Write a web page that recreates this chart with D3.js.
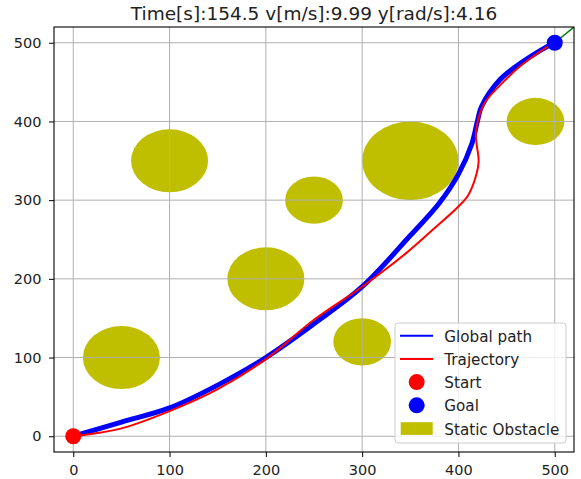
<!DOCTYPE html>
<html>
<head>
<meta charset="utf-8">
<script src="https://cdn.jsdelivr.net/npm/d3@7"></script>
<style>
  body { margin: 0; background: #fff; }
  svg { font-family: "DejaVu Sans", sans-serif; }
</style>
</head>
<body>
<div id="chart"></div>
<script>
// chart data
const titleText = "Time[s]:154.5 v[m/s]:9.99 y[rad/s]:4.16";
const tickValues = [0, 100, 200, 300, 400, 500];

const obsX = [50, 100, 200, 250, 300, 350, 480];
const obsY = [100, 350, 200, 300, 120, 350, 400];
const obsR = [40, 40, 40, 30, 30, 50, 30];

const globalX = [0, 50, 100, 150, 200, 250, 300, 350, 380, 400, 414, 420, 424, 443, 467, 492, 500];
const globalY = [0, 18, 36, 65, 100, 143, 190, 255, 296, 333, 372, 402, 419, 453, 476, 495, 500];

const trajX = [0, 25, 50, 100, 150, 200, 250, 300, 346, 373, 400, 410, 418, 421, 419, 418, 421, 428, 440, 464, 490, 498];
const trajY = [0, 4, 10, 32, 60, 98, 148, 190, 233, 262, 292, 306, 330, 350, 370, 385, 405, 425, 442, 470, 493, 499];

const goalLineX = [500, 540];
const goalLineY = [500, 540];

const start = [0, 0];
const goal = [500, 500];

const legendLabels = ["Global path", "Trajectory", "Start", "Goal", "Static Obstacle"];

const width = 581, height = 479;
const margin = {top: 27, right: 7, bottom: 27, left: 54};

const svg = d3.select("#chart").append("svg")
  .attr("width", width)
  .attr("height", height);

const x = d3.scaleLinear().domain([-20, 520]).range([margin.left, width - margin.right]);
const y = d3.scaleLinear().domain([-20, 520]).range([height - margin.bottom, margin.top]);

svg.append("defs").append("clipPath").attr("id", "clip")
  .append("rect")
  .attr("x", x(-20)).attr("y", y(520))
  .attr("width", x(520) - x(-20)).attr("height", y(-20) - y(520));

const plot = svg.append("g").attr("clip-path", "url(#clip)");

// obstacles
plot.selectAll("ellipse.obs")
  .data(obsX.map((d, i) => ({cx: d, cy: obsY[i], r: obsR[i]})))
  .enter().append("ellipse")
  .attr("class", "obs")
  .attr("cx", d => x(d.cx))
  .attr("cy", d => y(d.cy))
  .attr("rx", d => x(d.r) - x(0))
  .attr("ry", d => y(0) - y(d.r))
  .attr("fill", "#bfbf00");

// grid
plot.selectAll("line.gx").data(tickValues).enter().append("line")
  .attr("x1", d => x(d)).attr("x2", d => x(d))
  .attr("y1", y(-20)).attr("y2", y(520))
  .attr("stroke", "#b0b0b0").attr("stroke-width", 1);
plot.selectAll("line.gy").data(tickValues).enter().append("line")
  .attr("y1", d => y(d)).attr("y2", d => y(d))
  .attr("x1", x(-20)).attr("x2", x(520))
  .attr("stroke", "#b0b0b0").attr("stroke-width", 1);

const line = d3.line()
  .x(d => x(d[0]))
  .y(d => y(d[1]))
  .curve(d3.curveCatmullRom.alpha(0.5));

plot.append("path")
  .datum(goalLineX.map((d, i) => [d, goalLineY[i]]))
  .attr("d", d3.line().x(d => x(d[0])).y(d => y(d[1])))
  .attr("fill", "none").attr("stroke", "green").attr("stroke-width", 1.5);

plot.append("path")
  .datum(globalX.map((d, i) => [d, globalY[i]]))
  .attr("d", line)
  .attr("fill", "none").attr("stroke", "blue").attr("stroke-width", 5);

plot.append("path")
  .datum(trajX.map((d, i) => [d, trajY[i]]))
  .attr("d", line)
  .attr("fill", "none").attr("stroke", "red").attr("stroke-width", 2);

plot.append("circle")
  .attr("cx", x(start[0])).attr("cy", y(start[1])).attr("r", 8).attr("fill", "red");
plot.append("circle")
  .attr("cx", x(goal[0])).attr("cy", y(goal[1])).attr("r", 8).attr("fill", "blue");

// axes
const xAxis = svg.append("g")
  .attr("transform", `translate(0,${y(-20)})`)
  .call(d3.axisBottom(x).tickValues(tickValues).tickSize(5).tickPadding(7.5).tickSizeOuter(0));
const yAxis = svg.append("g")
  .attr("transform", `translate(${x(-20)},0)`)
  .call(d3.axisLeft(y).tickValues(tickValues).tickSize(5).tickPadding(7.5).tickSizeOuter(0));

[xAxis, yAxis].forEach(a => {
  a.selectAll("text").attr("font-size", 14.5).attr("font-family", "DejaVu Sans").attr("fill", "#222");
  a.selectAll(".tick line").attr("stroke", "#000").attr("stroke-width", 1);
  a.select(".domain").remove();
});

// spines
svg.append("rect")
  .attr("x", x(-20)).attr("y", y(520))
  .attr("width", x(520) - x(-20)).attr("height", y(-20) - y(520))
  .attr("fill", "none").attr("stroke", "#000").attr("stroke-width", 1.1);

// title
svg.append("text")
  .attr("x", (x(-20) + x(520)) / 2)
  .attr("y", 20)
  .attr("text-anchor", "middle")
  .attr("font-size", 18.5)
  .attr("fill", "#222")
  .text(titleText);

// legend
const lg = svg.append("g").attr("transform", "translate(395,323)");
lg.append("rect")
  .attr("width", 171).attr("height", 120).attr("rx", 3)
  .attr("fill", "#fff").attr("fill-opacity", 0.8)
  .attr("stroke", "#cccccc").attr("stroke-width", 1);

const rowH = 23.2;
legendLabels.forEach((lab, i) => {
  const cy = 12.7 + i * rowH;
  const row = lg.append("g").attr("transform", `translate(0,${cy})`);
  if (i === 0 || i === 1) {
    row.append("line").attr("x1", 5).attr("x2", 38)
      .attr("stroke", i === 0 ? "blue" : "red").attr("stroke-width", 2);
  } else if (i === 2 || i === 3) {
    row.append("circle").attr("cx", 21.7).attr("r", 8).attr("fill", i === 2 ? "red" : "blue");
  } else {
    row.append("rect").attr("x", 5.7).attr("y", -6.3).attr("width", 32).attr("height", 12.7).attr("fill", "#bfbf00");
  }
  row.append("text").attr("x", 49.3).attr("dy", "0.4em")
    .attr("font-size", 15.2).attr("fill", "#222").text(lab);
});
</script>
</body>
</html>
